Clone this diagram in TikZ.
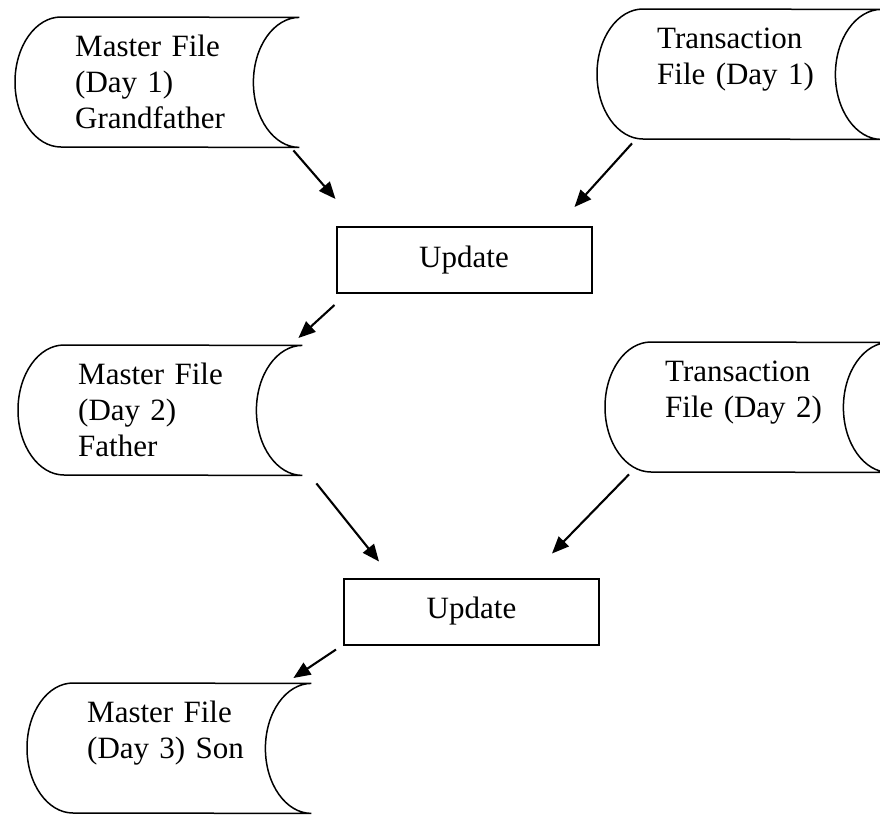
\documentclass[tikz,border=0pt]{standalone}
\usepackage{fontspec}
\setmainfont{Liberation Serif}
\usetikzlibrary{arrows.meta}

\tikzset{
    file/.style={anchor=north west, inner sep=0pt, minimum width=284pt,
        text width=164pt, align=left, text height=39pt, text depth=91pt},
    fileline/.style={line width=1.5pt},
    update/.style={draw, line width=2pt, minimum width=255pt,
        minimum height=66pt, inner sep=0pt},
    flow/.style={line width=2.1pt, -{Triangle[length=17pt,width=14pt]}}
}

\begin{document}
\begin{tikzpicture}[x=1pt, y=-1pt, font=\fontsize{31}{36}\selectfont]
    \useasboundingbox (0,0) rectangle (880,814);
    % files
    \node[file] (m1) at (15,17) {Master File\\(Day 1)\\Grandfather};
    \node[file] (t1) at (597,9) {Transaction\\File (Day 1)};
    \node[file] (m2) at (18,345) {Master File\\(Day 2)\\Father};
    \node[file] (t2) at (605,342) {Transaction\\File (Day 2)};
    \node[file] (m3) at (27,683) {Master File\\(Day 3) Son};
    \foreach \nm in {m1,t1,m2,t2,m3}
        \draw[fileline] ([xshift=46pt]\nm.north west)
            arc[start angle=90, end angle=270, x radius=46pt, y radius=65pt]
            -- (\nm.south east)
            arc[start angle=270, end angle=90, x radius=46pt, y radius=65pt]
            -- cycle;
    % processes
    \node[update] (u1) at (464,260) {Update};
    \node[update] (u2) at (471.5,611.5) {Update};
    % arrows
    \draw[flow] ([shift={(-6,3)}]m1.south east) -- ([shift={(0,-27)}]u1.north west);
    \draw[flow] ([shift={(35,4)}]t1.south west) -- ([shift={(-18,-19)}]u1.north east);
    \draw[flow] ([shift={(-1,11)}]u1.south west) -- ([shift={(-4,-7)}]m2.north east);
    \draw[flow] ([shift={(14,8)}]m2.south east) -- ([shift={(36,-16)}]u2.north west);
    \draw[flow] ([shift={(24,2)}]t2.south west) -- ([shift={(-48,-24)}]u2.north east);
    \draw[flow] ([shift={(-7,4)}]u2.south west) -- ([shift={(-18,-5)}]m3.north east);
\end{tikzpicture}
\end{document}
